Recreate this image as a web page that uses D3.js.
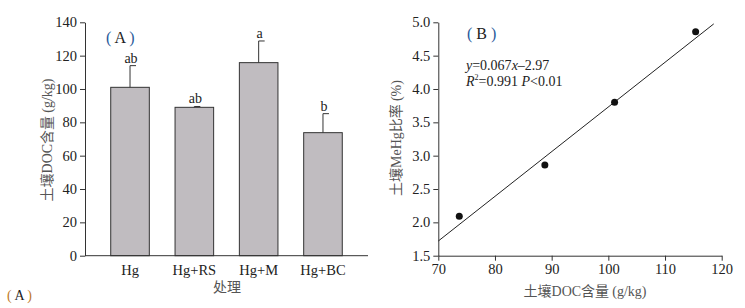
<!DOCTYPE html>
<html><head><meta charset="utf-8">
<script src="https://cdn.jsdelivr.net/npm/d3@7/dist/d3.min.js"></script>
<style>
body{margin:0;background:#fff;}
text{font-family:"Liberation Serif","Times New Roman",serif;fill:#222;}
.cjk{font-family:"Noto Sans CJK SC",sans-serif;fill:#555;}
</style></head><body>
<svg id="c" width="745" height="308"></svg>
<script>
// Panel A data
const categories = ["Hg","Hg+RS","Hg+M","Hg+BC"];
const docMeans = [101, 89, 115.8, 73.8];
const docErrors = [13, 0.5, 13, 11.4];
const sigLetters = ["ab","ab","a","b"];
const yTicksA = [0,20,40,60,80,100,120,140];
// Panel B data
const docX = [73.7, 88.8, 101.1, 115.4];
const mehgY = [2.09, 2.86, 3.80, 4.86];
const fitX = [70, 118.6];
const slope = 0.067, intercept = -2.97;
const xTicksB = [70,80,90,100,110,120];
const yTicksB = [1.5,2.0,2.5,3.0,3.5,4.0,4.5,5.0];

const svg = d3.select("#c");

// ---------- Panel A ----------
const xA = d3.scaleBand().domain(categories).range([85,368]).paddingInner(0.4).paddingOuter(0.4);
const yA = d3.scaleLinear().domain([0,140]).range([255.7,22.3]);

const gA = svg.append("g");
gA.selectAll("rect.bar").data(categories).join("rect")
  .attr("x", d=>xA(d)).attr("width", xA.bandwidth())
  .attr("y", (d,i)=>yA(docMeans[i])).attr("height",(d,i)=>yA(0)-yA(docMeans[i]))
  .attr("fill","#c0bcc0").attr("stroke","#333").attr("stroke-width",1);
categories.forEach((c,i)=>{
  const cx = xA(c)+xA.bandwidth()/2;
  gA.append("line").attr("x1",cx).attr("x2",cx).attr("y1",yA(docMeans[i])).attr("y2",yA(docMeans[i]+docErrors[i])).attr("stroke","#333");
  gA.append("line").attr("x1",cx).attr("x2",cx+6).attr("y1",yA(docMeans[i]+docErrors[i])).attr("y2",yA(docMeans[i]+docErrors[i])).attr("stroke","#333");
  gA.append("text").attr("x",cx+1).attr("y",yA(docMeans[i]+docErrors[i])-3).attr("text-anchor","middle").attr("font-size",14).text(sigLetters[i]);
});

const axAy = gA.append("g").attr("transform","translate(85,0)")
  .call(d3.axisLeft(yA).tickValues(yTicksA).tickSize(5).tickSizeOuter(0));
const axAx = gA.append("g").attr("transform","translate(0,255.7)")
  .call(d3.axisBottom(xA).tickSize(0).tickSizeOuter(0));
axAx.select(".domain").attr("d","M85,0H368");
[axAy,axAx].forEach(a=>{a.selectAll("path,line").attr("stroke","#333");a.selectAll("text").attr("font-size",14.5).attr("fill","#222").attr("font-family","Liberation Serif");});
axAx.selectAll("text").attr("dy","1.1em");

gA.append("text").attr("class","cjk").attr("transform","translate(52,140) rotate(-90)").attr("text-anchor","middle").attr("font-size",14)
  .html('土壤<tspan font-family="Liberation Serif">DOC</tspan>含量 <tspan font-family="Liberation Serif">(g/kg)</tspan>');
gA.append("text").attr("class","cjk").attr("x",227).attr("y",292).attr("text-anchor","middle").attr("font-size",14).text("处理");
gA.append("text").attr("x",106).attr("y",43).attr("font-size",16).html('<tspan fill="#2a5a9a">(</tspan>  A  <tspan fill="#2a5a9a">)</tspan>');
gA.append("text").attr("x",7).attr("y",300).attr("font-size",14).html('<tspan fill="#c07a2a">(</tspan> A <tspan fill="#c07a2a">)</tspan>');

// ---------- Panel B ----------
const xB = d3.scaleLinear().domain([70,120]).range([438.3,721.7]);
const yB = d3.scaleLinear().domain([1.5,5.0]).range([255.7,22.3]);
const gB = svg.append("g");
const axBy = gB.append("g").attr("transform","translate(438.3,0)")
  .call(d3.axisLeft(yB).tickValues(yTicksB).tickFormat(d3.format(".1f")).tickSize(5).tickSizeOuter(0));
const axBx = gB.append("g").attr("transform","translate(0,255.7)")
  .call(d3.axisBottom(xB).tickValues(xTicksB).tickSize(5).tickSizeOuter(0));
[axBy,axBx].forEach(a=>{a.selectAll("path,line").attr("stroke","#333");a.selectAll("text").attr("font-size",14.5).attr("fill","#222").attr("font-family","Liberation Serif");});

gB.append("line").attr("x1",xB(fitX[0])).attr("y1",yB(slope*fitX[0]+intercept))
  .attr("x2",xB(fitX[1])).attr("y2",yB(slope*fitX[1]+intercept)).attr("stroke","#222").attr("stroke-width",1);
gB.selectAll("circle").data(docX).join("circle")
  .attr("cx",d=>xB(d)).attr("cy",(d,i)=>yB(mehgY[i])).attr("r",3.5).attr("fill","#111");

gB.append("text").attr("class","cjk").attr("transform","translate(401,138) rotate(-90)").attr("text-anchor","middle").attr("font-size",14)
  .html('土壤<tspan font-family="Liberation Serif">MeHg</tspan>比率 <tspan font-family="Liberation Serif">(%)</tspan>');
gB.append("text").attr("class","cjk").attr("x",585).attr("y",296).attr("text-anchor","middle").attr("font-size",14)
  .html('土壤<tspan font-family="Liberation Serif">DOC</tspan>含量 <tspan font-family="Liberation Serif">(g/kg)</tspan>');
gB.append("text").attr("x",467).attr("y",39).attr("font-size",16).html('<tspan fill="#2a5a9a">(</tspan>  B  <tspan fill="#2a5a9a">)</tspan>');
gB.append("text").attr("x",466).attr("y",70).attr("font-size",14).html('<tspan font-style="italic">y</tspan>=0.067<tspan font-style="italic">x</tspan>–2.97');
gB.append("text").attr("x",466).attr("y",86).attr("font-size",14).html('<tspan font-style="italic">R</tspan><tspan font-size="8" dy="-6">2</tspan><tspan dy="6">=0.991 </tspan><tspan font-style="italic">P</tspan>&lt;0.01');
</script></body></html>
